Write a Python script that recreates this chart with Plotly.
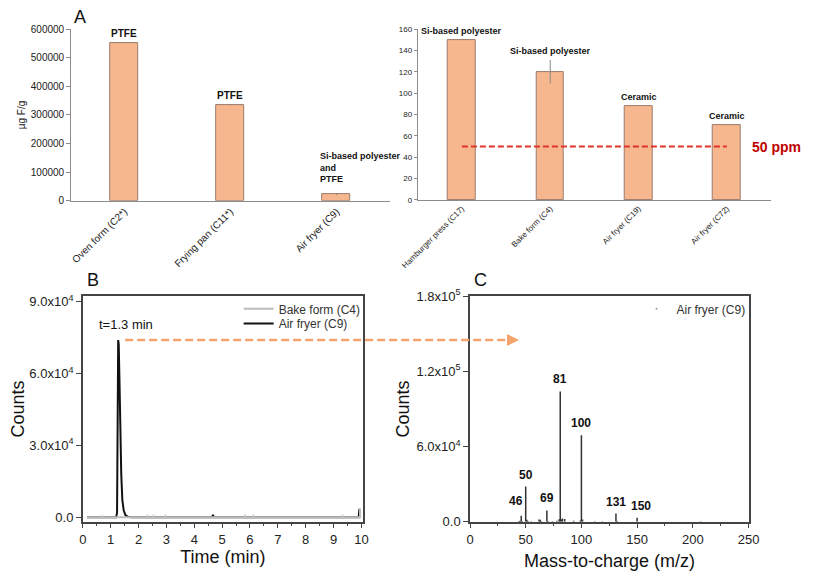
import plotly.graph_objects as go

W, H = 813, 575
FONT = "Liberation Sans, Arial, sans-serif"

# ---------------- data ----------------
# Panel A (left)
a1_categories = ["Oven form (C2*)", "Frying pan (C11*)", "Air fryer (C9)"]
a1_values = [552000, 335000, 22000]
a1_errors = [0, 1500, 2000]
a1_labels = ["PTFE", "PTFE", "Si-based polyester<br>and<br>PTFE"]

# Panel A (right)
a2_categories = ["Hamburger press (C17)", "Bake form (C4)", "Air fryer (C19)", "Air fryer (C72)"]
a2_values = [150, 120, 88, 70]
a2_errors = [0, 11, 0, 0]
a2_labels = ["Si-based polyester", "Si-based polyester", "Ceramic", "Ceramic"]
a2_limit = 50
a2_limit_label = "50 ppm"

# Panel B (chromatograms)
b_bake_time = [0.15, 0.68, 0.70, 0.72, 2.30, 2.32, 2.34, 2.52, 2.54, 2.56, 2.95, 2.97, 2.99,
               5.80, 5.82, 5.84, 6.10, 6.12, 6.14, 9.30, 9.32, 9.34, 9.93, 9.95, 9.95]
b_bake_counts = [0, 0, 500, 0, 0, 400, 0, 0, 400, 0, 0, 400, 0,
                 0, 400, 0, 0, 400, 0, 0, 400, 0, 0, 0, 3500]
b_air_time = [0.15, 1.20, 1.23, 1.25, 1.27, 1.29, 1.32, 1.35, 1.38, 1.42, 1.47, 1.53, 1.62,
              1.75, 4.64, 4.67, 4.70, 9.90, 9.93, 9.95]
b_air_counts = [0, 0, 2000, 40000, 74000, 72000, 55000, 35000, 18000, 7000, 2800, 900, 200,
                0, 0, 1000, 0, 0, 3500, 0]
b_peak_time = 1.27
b_peak_label = "t=1.3 min"

# Panel C (mass spectrum of air fryer C9)
c_mz = [44, 45, 46, 47, 50, 51, 52, 55, 62, 63, 64, 69, 70, 74, 78, 80, 81, 82, 83, 85,
        93, 99, 100, 101, 112, 119, 131, 132, 150, 207]
c_counts = [500, 800, 4700, 600, 28000, 1500, 500, 400, 1800, 1500, 600, 9000, 500, 400, 800,
            2000, 104000, 1800, 2500, 2200, 700, 900, 69000, 1800, 300, 400, 6500, 500, 3100, 300]
c_labeled = [46, 50, 69, 81, 100, 131, 150]

# ---------------- layout geometry ----------------
def px_x(p):
    return p / W

def px_y(p):
    return 1 - p / H

A1_X = [px_x(57), px_x(386)]
A1_Y = [px_y(197.7), px_y(20.7)]
A2_X = [px_x(415), px_x(780)]
A2_Y = [px_y(196.7), px_y(20.7)]
B_X = [px_x(69), px_x(358.3)]
BC_Y = [px_y(528.3), px_y(296)]
C_X = [px_x(469), px_x(757.3)]

B_XR = [0, 10.05]
B_YR = [-1870, 92300]
C_XR = [0, 250.5]
C_YR = [0, 180000]

BAR_FILL = "#F6B68E"
BAR_LINE = "#9C7C6C"
ORANGE = "#F4A46C"

fig = go.Figure()

# Panel A left
fig.add_trace(go.Bar(
    x=a1_categories, y=a1_values, xaxis="x", yaxis="y", width=0.265,
    marker=dict(color=BAR_FILL, line=dict(color=BAR_LINE, width=1)),
    error_y=dict(type="data", array=a1_errors, color="#8a8a8a", thickness=1, width=0),
    showlegend=False))

# Panel A right
fig.add_trace(go.Bar(
    x=a2_categories, y=a2_values, xaxis="x2", yaxis="y2", width=0.31,
    marker=dict(color=BAR_FILL, line=dict(color=BAR_LINE, width=1)),
    error_y=dict(type="data", array=a2_errors, color="#8a8a8a", thickness=1, width=0),
    showlegend=False))

# Panel B
fig.add_trace(go.Scatter(
    x=b_air_time, y=b_air_counts, xaxis="x3", yaxis="y3", mode="lines",
    line=dict(color="#111111", width=2), name="Air fryer (C9)", legend="legend3"))
fig.add_trace(go.Scatter(
    x=b_bake_time, y=b_bake_counts, xaxis="x3", yaxis="y3", mode="lines",
    line=dict(color="#BDBDBD", width=2), name="Bake form (C4)", legend="legend"))

# Panel C: sticks built from the data
sx, sy = [], []
for m, c in zip(c_mz, c_counts):
    sx += [m, m, None]
    sy += [0, c, None]
fig.add_trace(go.Scatter(
    x=sx, y=sy, xaxis="x4", yaxis="y4", mode="lines",
    line=dict(color="#333333", width=1.5), showlegend=False))
fig.add_trace(go.Scatter(
    x=[None], y=[None], xaxis="x4", yaxis="y4", mode="markers",
    marker=dict(color="#999999", size=2), name="Air fryer (C9)", legend="legend2"))

# ---------------- axes ----------------
tick_font_a1 = dict(family=FONT, size=10, color="#222")
tick_font_a2 = dict(family=FONT, size=8, color="#222")
tick_font_bc = dict(family=FONT, size=13, color="#222")
title_font_bc = dict(family=FONT, size=18, color="#111")


def sci(v):
    if v == 0:
        return "0.0"
    e = len(str(int(v))) - 1
    return f"{v / 10 ** e:.1f}x10<sup>{e}</sup>"

b_yticks = [0, 30000, 60000, 90000]
c_yticks = [0, 60000, 120000, 180000]

box_axis = dict(showline=True, linecolor="#444", linewidth=1.5, mirror=True,
                ticks="outside", ticklen=5, tickcolor="#444", tickwidth=1.2,
                showgrid=False, zeroline=False, tickfont=tick_font_bc)

fig.update_layout(
    width=W, height=H, margin=dict(l=0, r=0, t=0, b=0),
    paper_bgcolor="white", plot_bgcolor="white",
    font=dict(family=FONT),
    bargap=0,
    xaxis=dict(domain=A1_X, anchor="y", range=[-0.5, 2.5], showline=True, linecolor="#8c8c8c",
               linewidth=1, tickangle=-45, tickfont=tick_font_a1, showgrid=False, ticks=""),
    yaxis=dict(domain=A1_Y, anchor="x", range=[0, 600000], dtick=100000, showline=True,
               linecolor="#8c8c8c", linewidth=1, ticks="outside", ticklen=4, tickcolor="#8c8c8c",
               tickfont=tick_font_a1, showgrid=False, zeroline=False, tickformat="d",
               title=dict(text="µg F/g", font=dict(family=FONT, size=10, color="#222"), standoff=3)),
    xaxis2=dict(domain=A2_X, anchor="y2", range=[-0.5, 3.5], showline=True, linecolor="#8c8c8c",
                linewidth=1, tickangle=-45, tickfont=tick_font_a2, showgrid=False, ticks=""),
    yaxis2=dict(domain=A2_Y, anchor="x2", range=[0, 160], dtick=20, showline=True,
                linecolor="#8c8c8c", linewidth=1, ticks="outside", ticklen=3, tickcolor="#8c8c8c",
                tickfont=tick_font_a2, showgrid=False, zeroline=False),
    xaxis3=dict(domain=B_X, anchor="y3", range=B_XR, dtick=1, tick0=0,
                minor=dict(dtick=0.5, ticklen=3, tickcolor="#444", ticks="outside"),
                title=dict(text="Time (min)", font=title_font_bc, standoff=4), **box_axis),
    yaxis3=dict(domain=BC_Y, anchor="x3", range=B_YR, tickvals=b_yticks,
                ticktext=[sci(v) for v in b_yticks],
                title=dict(text="Counts", font=title_font_bc, standoff=0), **box_axis),
    xaxis4=dict(domain=C_X, anchor="y4", range=C_XR, dtick=50, tick0=0,
                minor=dict(dtick=25, ticklen=3, tickcolor="#444", ticks="outside"),
                title=dict(text="Mass-to-charge (m/z)", font=title_font_bc, standoff=8), **box_axis),
    yaxis4=dict(domain=BC_Y, anchor="x4", range=C_YR, tickvals=c_yticks,
                ticktext=[sci(v) for v in c_yticks],
                title=dict(text="Counts", font=title_font_bc, standoff=2), **box_axis),
    legend=dict(x=px_x(230), y=px_y(309), xanchor="left", yanchor="middle",
                bgcolor="rgba(0,0,0,0)", font=dict(family=FONT, size=12, color="#333")),
    legend3=dict(x=px_x(230), y=px_y(324), xanchor="left", yanchor="middle",
                 bgcolor="rgba(0,0,0,0)", font=dict(family=FONT, size=12, color="#333")),
    legend2=dict(x=px_x(641), y=px_y(309), xanchor="left", yanchor="middle",
                 bgcolor="rgba(0,0,0,0)", font=dict(family=FONT, size=12, color="#333")),
)

# ---------------- annotations ----------------
ann = []
# panel letters
for letter, (lx, ly) in {"A": (66, 8), "B": (80, 279), "C": (480, 279)}.items():
    ann.append(dict(text=letter, x=px_x(lx), y=px_y(ly), xref="paper", yref="paper",
                    showarrow=False, font=dict(family=FONT, size=18, color="#111"),
                    xanchor="center", yanchor="middle"))

lab_font = dict(family=FONT, size=10, color="#111")
lab_font_small = dict(family=FONT, size=9, color="#111")
for cat, v, e, t in zip(a1_categories, a1_values, a1_errors, a1_labels):
    multi = "<br>" in t
    ann.append(dict(text=f"<b>{t}</b>", x=cat, y=v + e, xref="x", yref="y", showarrow=False,
                    font=lab_font_small if multi else lab_font,
                    xanchor="left" if multi else "center", align="left",
                    xshift=-19 if multi else 0, yshift=8 if multi else 2, yanchor="bottom"))
for cat, v, e, t in zip(a2_categories, a2_values, a2_errors, a2_labels):
    ann.append(dict(text=f"<b>{t}</b>", x=cat, y=v + e, xref="x2", yref="y2", showarrow=False,
                    font=lab_font_small, xanchor="center", yanchor="bottom", yshift=2))

ann.append(dict(text=f"<b>{a2_limit_label}</b>", x=px_x(786), y=a2_limit, xref="paper", yref="y2",
                showarrow=False, font=dict(family=FONT, size=14, color="#C00000"),
                xanchor="center", yanchor="middle"))

# peak label in B
ann.append(dict(text=b_peak_label, x=b_peak_time, y=max(b_air_counts), xref="x3", yref="y3",
                showarrow=False, font=dict(family=FONT, size=13, color="#111"),
                xanchor="center", yanchor="bottom", xshift=8, yshift=6))

# peak labels in C
label_xshift = {46: -5, 150: 4}
for m in c_labeled:
    c = c_counts[c_mz.index(m)]
    ann.append(dict(text=f"<b>{m}</b>", x=m, y=c, xref="x4", yref="y4", showarrow=False,
                    font=dict(family=FONT, size=12, color="#111"),
                    xanchor="center", yanchor="bottom", xshift=label_xshift.get(m, 0),
                    yshift=3 if m != 46 else 6))

# dashed arrow from B peak to C
def to_paper(v, dom, rng):
    return dom[0] + (v - rng[0]) / (rng[1] - rng[0]) * (dom[1] - dom[0])

arrow_y = to_paper(max(b_air_counts), BC_Y, B_YR)
arrow_x0 = to_paper(1.52, B_X, B_XR)
arrow_x1 = to_paper(44, C_X, C_XR)
ann.append(dict(text=" ", x=arrow_x1, y=arrow_y, xref="paper", yref="paper", showarrow=True,
                ax=-8, ay=0, arrowhead=2, arrowsize=1.2, arrowwidth=2, arrowcolor=ORANGE))

fig.update_layout(annotations=ann)

shapes = [
    dict(type="line", xref="x2", yref="y2", x0=0, x1=3, y0=a2_limit, y1=a2_limit,
         line=dict(color="#E0352B", width=2, dash="6px,3px")),
    dict(type="line", xref="paper", yref="paper", x0=arrow_x0, x1=arrow_x1 - 6 / W,
         y0=arrow_y, y1=arrow_y, line=dict(color=ORANGE, width=2.5, dash="8px,4px")),
]
fig.update_layout(shapes=shapes)

fig.write_html("out.html")
